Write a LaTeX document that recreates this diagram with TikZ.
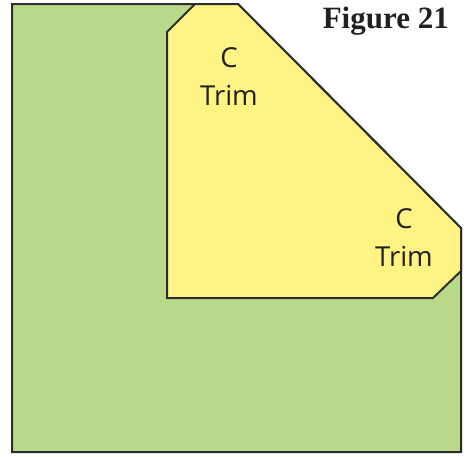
\documentclass[tikz,border=0pt]{standalone}
\usepackage{fontspec}
\setmainfont{Liberation Serif}
\newfontfamily\labelfont{Open Sans}
\usepackage{xcolor}
\usepackage{tikz}
\usetikzlibrary{positioning}
\definecolor{cgreen}{RGB}{185,217,138}
\definecolor{cyellow}{RGB}{255,244,131}
\definecolor{cedge}{RGB}{45,45,45}
\definecolor{ctext}{RGB}{35,31,32}

\begin{document}
\begin{tikzpicture}[
  x=1pt, y=-1pt,
  block/.style   = {draw=cedge, line width=2pt, line join=miter},
  trimlbl/.style = {font=\labelfont\fontsize{27.5}{38}\selectfont, text=ctext,
                    align=center, inner sep=0pt},
  figlbl/.style  = {font=\bfseries\fontsize{31}{34}\selectfont, text=ctext,
                    anchor=base east, inner sep=0pt},
]
\useasboundingbox (0,0) rectangle (469,456);
% outer square with cut corner
\draw[block, fill=cgreen] (12,4) -- (238,4) -- (461,228) -- (461,452)
  -- (12,452) -- cycle;
% trim piece
\draw[block, fill=cyellow] (195,4) -- (238,4) -- (461,228) -- (461,271)
  -- (433,298) -- (167,298) -- (167,32) -- cycle;
\node[figlbl]  (fig)   at (449,28)  {Figure 21};
\node[trimlbl] (trimA) at (229,77)  {C\\Trim};
\node[trimlbl] (trimB) at (404,238) {C\\Trim};
\end{tikzpicture}
\end{document}
